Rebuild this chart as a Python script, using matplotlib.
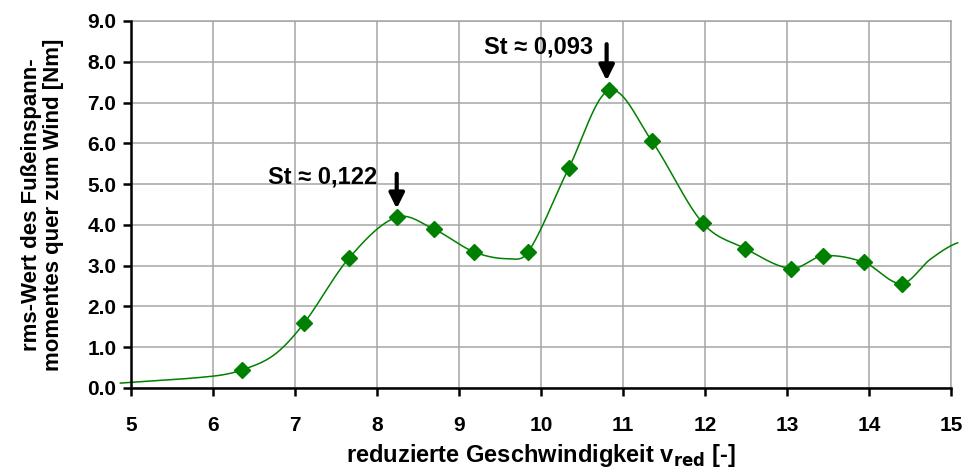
import matplotlib
matplotlib.use("Agg")
import matplotlib.pyplot as plt
import numpy as np

# measured points (markers)
v_red = [6.35, 7.11, 7.66, 8.24, 8.69, 9.18, 9.845, 10.34, 10.83, 11.35,
         11.97, 12.49, 13.05, 13.44, 13.94, 14.40]
m_rms = [0.44, 1.59, 3.19, 4.19, 3.90, 3.34, 3.34, 5.40, 7.30, 6.06,
         4.05, 3.42, 2.93, 3.24, 3.08, 2.56]

# curve (smoothed line, more support points than markers)
curve_x = [4.87, 6.0, 6.35, 6.75, 7.11, 7.66, 8.24, 8.69, 9.18, 9.60, 9.845,
           10.34, 10.83, 11.35, 11.97, 12.49, 13.05, 13.44, 13.94, 14.40, 14.75, 15.08]
curve_y = [0.12, 0.29, 0.44, 0.82, 1.59, 3.19, 4.19, 3.90, 3.34, 3.17, 3.34,
           5.40, 7.30, 6.06, 4.05, 3.42, 2.93, 3.24, 3.08, 2.56, 3.16, 3.56]

peaks_x = [8.24, 10.80]
peak_labels = ["St \u2248 0,122", "St \u2248 0,093"]


def smooth(xs, ys, n=40):
    # cubic hermite with catmull-rom slopes
    x = np.asarray(xs, float)
    y = np.asarray(ys, float)
    m = np.empty_like(y)
    m[1:-1] = (y[2:] - y[:-2]) / (x[2:] - x[:-2])
    m[0] = (y[1] - y[0]) / (x[1] - x[0])
    m[-1] = 0.6 * (y[-1] - y[-2]) / (x[-1] - x[-2])
    ox, oy = [], []
    for i in range(len(x) - 1):
        h = x[i + 1] - x[i]
        t = np.linspace(0, 1, n)
        h00 = 2 * t**3 - 3 * t**2 + 1
        h10 = t**3 - 2 * t**2 + t
        h01 = -2 * t**3 + 3 * t**2
        h11 = t**3 - t**2
        ox.append(x[i] + t * h)
        oy.append(h00 * y[i] + h10 * h * m[i] + h01 * y[i + 1] + h11 * h * m[i + 1])
    return np.concatenate(ox), np.concatenate(oy)


plt.rcParams['font.family'] = ['Liberation Sans', 'DejaVu Sans']
plt.rcParams['font.weight'] = 'bold'

fig = plt.figure(figsize=(9.65, 4.75), dpi=100)
ax = fig.add_axes([0.1358, 0.1832, 0.8497, 0.7726])

green = "#008000"
sx, sy = smooth(curve_x, curve_y)
ax.plot(sx, sy, color=green, lw=1.1, clip_on=False, zorder=3)
ax.plot(v_red, m_rms, ls="none", marker="D", ms=8, color=green, zorder=4)

ax.set_xlim(5, 15)
ax.set_ylim(0, 9)
ax.set_xticks(np.arange(5, 16, 1))
ax.set_yticks(np.arange(0, 9.5, 1))
ax.yaxis.set_major_formatter(matplotlib.ticker.FormatStrFormatter("%.1f"))

ax.grid(True, color="#a6a6a6", lw=1.1)
ax.set_axisbelow(True)
for s in ["top", "right"]:
    ax.spines[s].set_color("#a6a6a6")
    ax.spines[s].set_linewidth(1.1)
for s in ["left", "bottom"]:
    ax.spines[s].set_color("black")
    ax.spines[s].set_linewidth(1.8)
    ax.spines[s].set_zorder(5)
ax.tick_params(axis="both", direction="out", length=5.5, width=1.8, labelsize=15)
ax.tick_params(axis="x", pad=15)
ax.tick_params(axis="y", pad=5)

ax.set_xlabel("reduzierte Geschwindigkeit v$_{\\mathbf{red}}$ [-]", fontsize=17, fontweight="bold", labelpad=5)
ax.set_ylabel("rms-Wert des Fu\u00dfeinspann-\nmomentes quer zum Wind [Nm]", fontsize=16,
              fontweight="bold", labelpad=17, linespacing=1.05)

# annotations
arrow = dict(arrowstyle="-|>,head_width=0.45,head_length=0.9", color="black", lw=3)
ax.annotate("", xy=(peaks_x[0], 4.33), xytext=(peaks_x[0], 5.32), arrowprops=arrow)
ax.text(8.0, 5.18, peak_labels[0], ha="right", va="center", fontsize=17, fontweight="bold")
ax.annotate("", xy=(peaks_x[1], 7.47), xytext=(peaks_x[1], 8.50), arrowprops=arrow)
ax.text(10.64, 8.37, peak_labels[1], ha="right", va="center", fontsize=17, fontweight="bold")

plt.savefig("out.png", dpi=100)
